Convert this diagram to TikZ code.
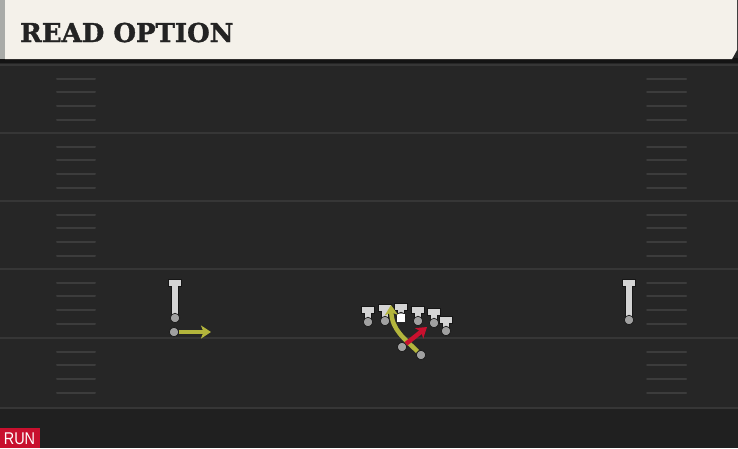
\documentclass[tikz,border=0pt]{standalone}
\usepackage{fontspec}
\usetikzlibrary{arrows.meta}
\newfontfamily\titlefont[BoldFeatures={FakeBold=1.3}]{DejaVu Serif}
\newfontfamily\tagfont{Liberation Sans}
\definecolor{fieldbg}{HTML}{262626}
\definecolor{bottombg}{HTML}{202020}
\definecolor{yardc}{HTML}{363636}
\definecolor{hashc}{HTML}{3C3C3C}
\definecolor{cream}{HTML}{F4F1EA}
\definecolor{stripc}{HTML}{A9ABA8}
\definecolor{titletext}{HTML}{232323}
\definecolor{yelc}{HTML}{B3B53C}
\definecolor{redc}{HTML}{C8102E}
\definecolor{tgray}{HTML}{D4D4D4}
\definecolor{circc}{HTML}{A0A0A0}
\definecolor{outc}{HTML}{161616}
\tikzset{
  yardline/.style={draw=yardc, line width=2pt},
  hashline/.style={draw=hashc, line width=2pt, line cap=round},
  tout/.style={draw=outc, line width=7.5pt},
  tin/.style={draw=tgray, line width=5.5pt},
  circ/.style={circle, fill=circc, draw=outc, line width=0.7pt, minimum size=9.5pt, inner sep=0pt},
  yel/.style={draw=yelc, line width=4.5pt, -{Stealth[length=10pt,width=13pt,inset=2.5pt]}},
  redarrow/.style={draw=redc, line width=4.5pt, -{Stealth[length=10pt,width=13pt,inset=2.5pt]}},
}
\newcommand\playerT[4]{%
  \draw[tout] (#2,#4) -- (#2,#3+2.8);
  \draw[tout] (#2-7,#3+2.8) -- (#2+7,#3+2.8);
  \draw[tin] (#2,#4) -- (#2,#3+2.8);
  \draw[tin] (#2-6,#3+2.8) -- (#2+6,#3+2.8);
  \node[circ] (#1) at (#2,#4) {};
}
\begin{document}
\begin{tikzpicture}[x=1pt,y=-1pt]
\useasboundingbox (0,0) rectangle (738,448);
\fill[fieldbg] (0,0) rectangle (738,448);
\fill[bottombg] (0,408) rectangle (738,448);
% yard lines
\foreach \y in {65,133,201,269,338,408} \draw[yardline] (0,\y) -- (738,\y);
% hash marks
\foreach \s in {65,133,201,269,338} {
  \foreach \k in {1,...,4} {
    \draw[hashline] (57,\s+\k*13.7) -- (95,\s+\k*13.7);
    \draw[hashline] (647,\s+\k*13.7) -- (686,\s+\k*13.7);
  }
}
% title bar
\fill[black!92] (0,58) rectangle (738,63);
\fill[stripc] (0,0) rectangle (6,59);
\fill[cream] (5,0) -- (737,0) -- (737,50) -- (732,59) -- (5,59) -- cycle;
\node[anchor=base west, inner sep=0pt, text=titletext,
  font=\titlefont\bfseries\fontsize{26}{26}\selectfont] (title) at (20,42) {READ OPTION};
% receivers
\playerT{lwr}{175}{280}{318}
\node[circ] (lwrm) at (174,332) {};
\coordinate (lwrEnd) at (211,332);
\playerT{rwr}{629}{280}{320}
% offensive line
\playerT{ol1}{368}{307}{322}
\playerT{ol2}{385}{305}{321}
\playerT{ol3}{401}{304}{317}
\playerT{ol4}{418}{307}{321}
\playerT{ol5}{434}{309}{323}
\playerT{ol6}{446}{317}{331}
\node[fill=white, minimum size=8.5pt, inner sep=0pt] (qb) at (401,318) {};
% backfield
\node[circ] (rb) at (421,355) {};
\node[circ] (bk) at (402,347) {};
\coordinate (rbEnd) at (391,305);
\coordinate (bkEnd) at (427,327);
% routes
\draw[yel] (lwrm) -- (lwrEnd);
\draw[yel] (rb) .. controls (404,338) and (392,330) .. (rbEnd);
\draw[redarrow] (bk) -- (bkEnd);
% tag
\fill[redc] (0,428) rectangle (40,448);
\node[anchor=base, inner sep=0pt, text=white, xscale=0.85,
  font=\tagfont\fontsize{17}{17}\selectfont] (tag) at (19.5,444.5) {RUN};
\end{tikzpicture}
\end{document}
